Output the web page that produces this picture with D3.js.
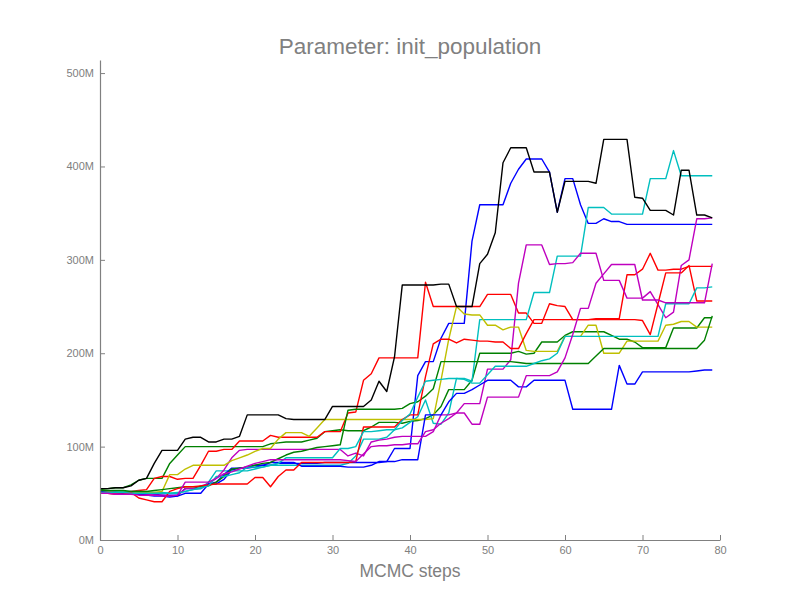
<!DOCTYPE html>
<html><head><meta charset="utf-8">
<script src="https://cdn.jsdelivr.net/npm/d3@7/dist/d3.min.js"></script>
<style>body{margin:0;background:#fff;}svg{display:block;font-family:"Liberation Sans",Arial,sans-serif;}</style>
</head><body>
<script>
const steps = d3.range(0, 80);
const xTicks = [0,10,20,30,40,50,60,70,80];
const yTicks = [0,100,200,300,400,500];
const title = "Parameter: init_population";
const xLabel = "MCMC steps";

// values in millions
const b1 = [52,52,51,51,51,50,50,49,48,48, 48,55,55,55,60,60,65,75,77,77, 78,80,80,82,82,82,82,82,82,83, 83,83,83,83,83,83,83,84,98,98, 98,176,191,191,216,232,232,232,320,359, 359,359,359,382,397,408,408,408,394,351, 387,387,359,339,339,344,341,341,338,338, 338,338,338,338,338,338,338,338,338,338];
const gA = [54,55,56,56,59,64,66,66,66,82, 91,100,100,100,100,100,100,100,100,100, 100,100,103,104,105,105,105,107,109,116, 117,118,117,117,117,121,126,126,126,125, 127,128,130,134,143,161,161,161,171,200, 200,200,200,200,202,199,200,212,212,212, 219,223,223,223,223,223,219,215,215,212, 206,206,206,206,227,227,227,227,238,238];
const rB = [52,52,51,51,52,53,54,66,68,68, 65,66,66,80,95,95,97,97,106,106, 106,106,112,110,110,110,110,110,110,116, 116,116,136,137,171,178,195,195,195,195, 195,195,276,250,250,250,250,250,250,250, 263,263,263,263,243,243,232,232,253,251, 250,236,236,236,237,237,237,237,284,284, 290,307,289,289,290,290,293,293,293,293];
const c1 = [52,52,52,52,52,52,51,51,51,50, 51,52,54,55,62,74,74,74,74,74, 76,78,80,80,80,80,80,80,80,80, 80,80,82,90,108,108,108,110,118,120, 126,132,150,125,124,136,173,173,170,236, 236,236,236,236,236,236,265,265,265,304, 304,304,304,356,356,356,349,349,349,349, 349,387,387,387,417,390,390,390,390,390];
const m1 = [50,50,50,50,49,49,49,48,48,47, 47,55,55,58,60,66,75,88,96,97, 97,97,97,97,97,97,97,97,97,97, 97,97,90,93,90,105,107,108,110,111, 111,111,111,116,134,134,136,146,146,146, 183,183,183,193,275,316,316,316,295,296, 296,297,307,307,307,278,278,278,259,259, 259,266,252,238,244,294,300,344,344,345];
const yl = [52,52,51,51,51,51,51,51,52,70, 70,76,80,80,80,80,80,85,88,91, 95,98,98,108,115,115,115,111,120,129, 129,129,129,129,129,129,129,129,129,129, 129,129,129,130,171,215,250,242,241,241, 230,230,225,228,228,203,202,202,202,202, 218,218,218,230,230,200,200,200,213,213, 213,213,213,230,231,234,234,228,228,228];
const k = [55,55,56,56,58,64,66,82,96,96, 96,108,110,110,105,105,108,108,111,134, 134,134,134,134,130,129,129,129,129,129, 143,143,143,143,143,150,170,159,196,273, 273,273,273,273,274,274,250,250,250,296, 306,329,404,420,420,420,394,394,394,351, 384,384,384,384,382,429,429,429,429,367, 366,353,353,353,348,396,396,348,348,345];
const b2 = [52,51,51,50,50,49,48,47,47,46, 47,50,50,50,60,62,70,77,77,78, 80,80,83,83,83,83,79,79,79,79, 79,79,78,78,78,80,84,84,84,86, 86,86,134,134,134,148,157,157,161,166, 171,171,171,171,164,164,171,171,171,171, 171,140,140,140,140,140,140,187,167,167, 180,180,180,180,180,180,180,181,182,182];
const gB = [53,53,53,53,52,52,52,53,54,55, 56,57,57,57,58,62,68,76,77,78, 80,82,83,87,91,94,95,97,99,100, 101,102,139,140,140,140,140,140,140,141, 146,148,154,162,191,191,191,191,191,191, 191,191,191,191,190,189,189,189,189,189, 189,189,189,189,197,205,205,205,205,205, 205,205,205,205,205,205,205,205,214,240];
const rA = [51,50,49,49,51,45,43,41,41,52, 55,57,57,58,59,60,60,60,60,60, 67,67,57,68,75,75,83,83,83,83, 83,83,83,84,121,121,121,121,121,129, 134,134,175,210,215,215,211,215,214,213, 213,212,212,205,205,221,236,236,236,236, 236,236,236,236,236,236,236,236,236,236, 235,220,253,286,286,286,294,256,256,256];
const c2 = [51,51,51,51,50,50,50,50,50,50, 50,52,54,56,58,68,68,70,72,78, 78,78,80,82,88,88,88,88,88,88, 88,98,98,100,116,116,117,118,118,128, 135,153,170,171,172,173,173,172,168,168, 177,186,186,186,186,186,189,192,194,200, 218,218,218,218,218,218,218,218,218,218, 218,218,218,253,253,253,253,270,270,271];
const m2 = [50,50,49,49,49,48,48,48,47,47, 48,62,62,62,62,66,71,73,76,79, 82,84,86,86,86,86,86,86,86,86, 86,86,85,84,92,100,101,101,102,102, 103,103,116,118,125,130,136,136,124,124, 153,153,153,153,153,176,176,176,176,180, 195,220,248,248,275,285,295,295,295,295, 257,257,257,254,254,254,254,254,254,296];

const seriesList = [b1, gA, rB, c1, m1, yl, k, b2, gB, rA, c2, m2];
const colors = ["#0000ff","#008000","#ff0000","#00bfbf","#bf00bf","#bfbf00","#000000","#0000ff","#008000","#ff0000","#00bfbf","#bf00bf"];

const W = 800, H = 600;
const svg = d3.select("body").append("svg").attr("width", W).attr("height", H);
const x = d3.scaleLinear().domain([0, 80]).range([100, 720]);
const y = d3.scaleLinear().domain([0, 514]).range([540, 60]);
const grey = "#808080";

const line = d3.line().x((d, i) => x(steps[i])).y(d => y(d));
svg.append("g").selectAll("path").data(seriesList).join("path")
  .attr("d", d => line(d))
  .attr("fill", "none")
  .attr("stroke", (d, i) => colors[i])
  .attr("stroke-width", 1.4)
  .attr("stroke-linejoin", "round");

const xAxis = svg.append("g").attr("transform", "translate(0,540)")
  .call(d3.axisBottom(x).tickValues(xTicks).tickFormat(d3.format("d")).tickSize(-5).tickSizeOuter(0).tickPadding(6));
const yAxis = svg.append("g").attr("transform", "translate(100,0)")
  .call(d3.axisLeft(y).tickValues(yTicks).tickFormat(d => d + "M").tickSize(-5).tickSizeOuter(0).tickPadding(6));
[xAxis, yAxis].forEach(g => {
  g.select(".domain").attr("stroke", grey).attr("stroke-width", 1.2);
  g.selectAll(".tick line").attr("stroke", grey);
  g.selectAll(".tick text").attr("fill", grey).style("font-size", "11px").style("font-family", "'Liberation Sans', Arial, sans-serif");
});

svg.append("text").attr("x", 410).attr("y", 54).attr("text-anchor", "middle")
  .attr("fill", grey).style("font-size", "22.5px").text(title);
svg.append("text").attr("x", 410).attr("y", 577).attr("text-anchor", "middle")
  .attr("fill", grey).style("font-size", "17.5px").text(xLabel);
</script>
</body></html>
